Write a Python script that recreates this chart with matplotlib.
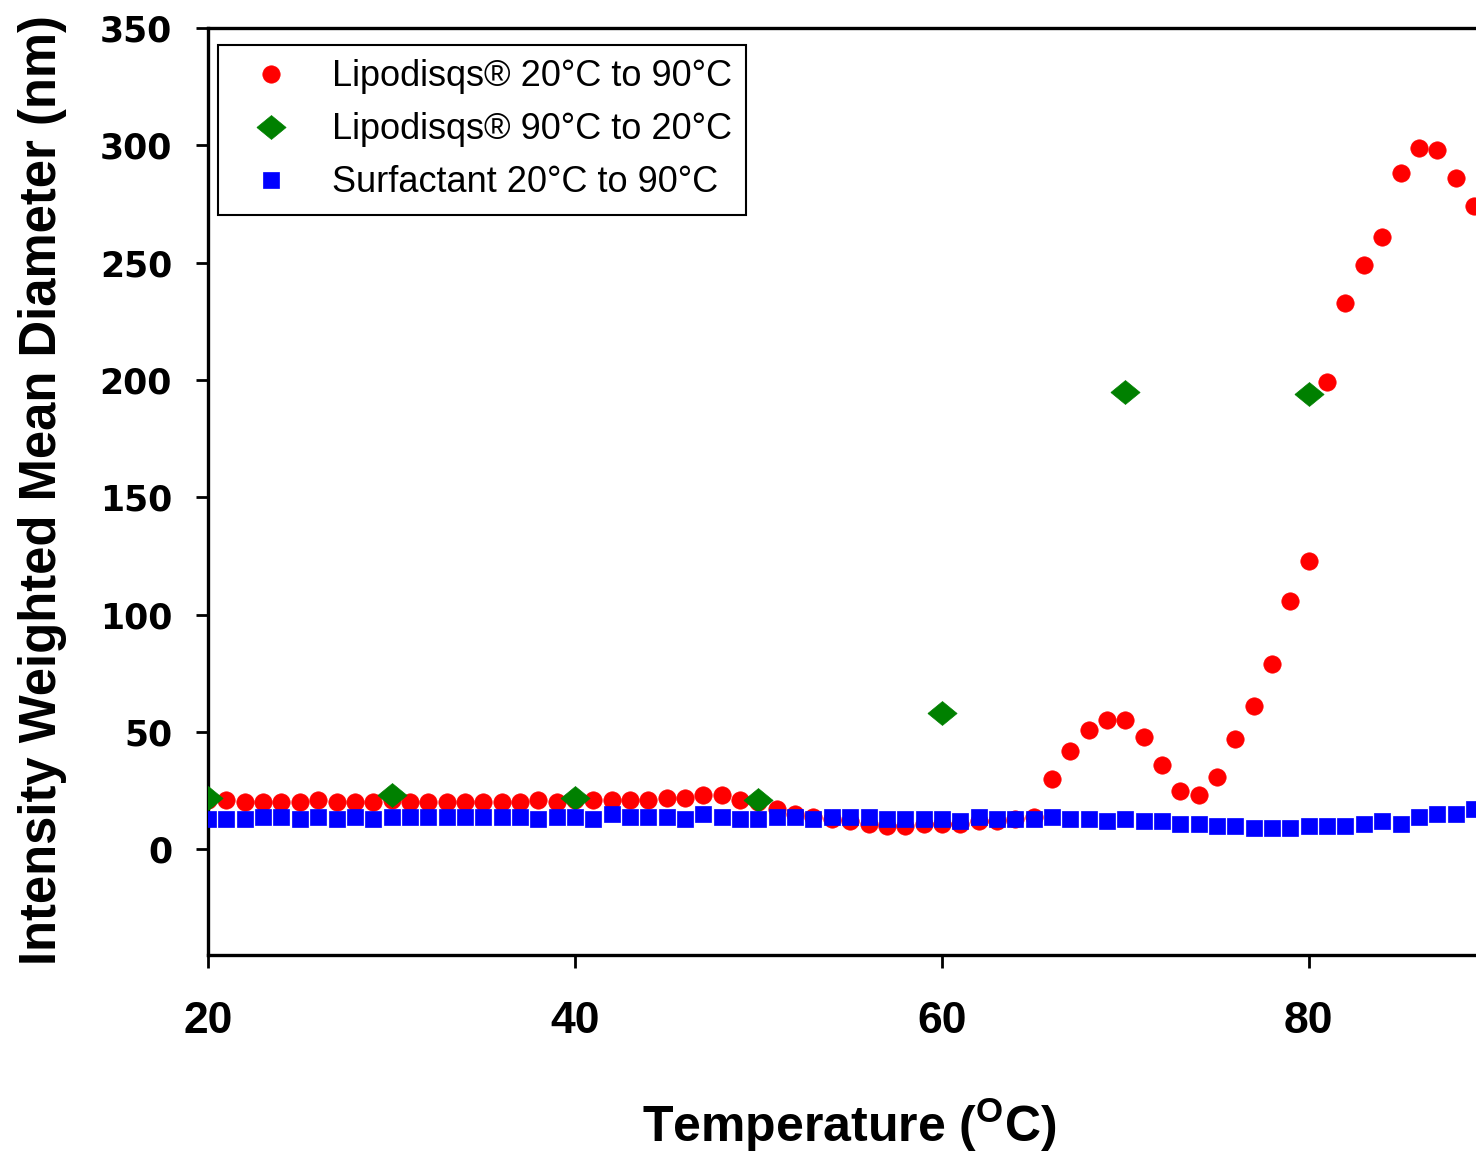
import numpy as np
import matplotlib
matplotlib.use("Agg")
import matplotlib.pyplot as plt
from matplotlib.ticker import FixedLocator

# temperatures (deg C), 1 degree steps as seen in the figure
temps = list(range(20, 90))

# Lipodisqs heating 20 -> 90
lipo_up = [21, 21, 20, 20, 20, 20, 21, 20, 20, 20,
           21, 20, 20, 20, 20, 20, 20, 20, 21, 20,
           21, 21, 21, 21, 21, 22, 22, 23, 23, 21,
           20, 17, 15, 14, 13, 12, 11, 10, 10, 11,
           11, 11, 12, 12, 13, 14, 30, 42, 51, 55,
           55, 48, 36, 25, 23, 31, 47, 61, 79, 106,
           123, 199, 233, 249, 261, 288, 299, 298, 286, 274]

# Lipodisqs cooling 90 -> 20 (every 10 deg)
cool_temps = [20, 30, 40, 50, 60, 70, 80]
lipo_down = [22, 23, 22, 21, 58, 195, 194]

# Surfactant heating 20 -> 90
surf_up = [13, 13, 13, 14, 14, 13, 14, 13, 14, 13,
           14, 14, 14, 14, 14, 14, 14, 14, 13, 14,
           14, 13, 15, 14, 14, 14, 13, 15, 14, 13,
           13, 14, 14, 13, 14, 14, 14, 13, 13, 13,
           13, 12, 14, 13, 13, 13, 14, 13, 13, 12,
           13, 12, 12, 11, 11, 10, 10, 9, 9, 9,
           10, 10, 10, 11, 12, 11, 14, 15, 15, 17]

labels = ["Lipodisqs\u00ae 20\u00b0C to 90\u00b0C",
          "Lipodisqs\u00ae 90\u00b0C to 20\u00b0C",
          "Surfactant 20\u00b0C to 90\u00b0C"]

fig = plt.figure(figsize=(14.76, 11.51), dpi=100)
ax = fig.add_axes([0.141, 0.1703, 0.870, 0.8054])

diamond = [(-1, 0), (0, 0.82), (1, 0), (0, -0.82), (-1, 0)]

ax.plot(temps, lipo_up, ls="none", marker="o", ms=12.5, color="#ff0000",
        mec="#ff0000", mew=0.5, label=labels[0], zorder=3)
ax.plot(cool_temps, lipo_down, ls="none", marker=diamond, ms=21, color="#008000",
        mec="#008000", mew=0.5, label=labels[1], zorder=4)
ax.plot(temps, surf_up, ls="none", marker="s", ms=11.5, color="#0000ff",
        mec="#0000ff", mew=0.5, label=labels[2], zorder=5)

ax.set_xlim(20, 90)
ax.set_ylim(-45, 350)
ax.xaxis.set_major_locator(FixedLocator([20, 40, 60, 80]))
ax.yaxis.set_major_locator(FixedLocator([0, 50, 100, 150, 200, 250, 300, 350]))

for side in ["left", "bottom", "top", "right"]:
    ax.spines[side].set_linewidth(2.4)
    ax.spines[side].set_color("black")

ax.tick_params(axis="both", direction="out", length=9, width=2)
ax.tick_params(axis="y", pad=17)
ax.tick_params(axis="x", pad=24)
for t in ax.get_yticklabels():
    t.set_fontfamily("DejaVu Sans")
    t.set_fontweight("bold")
    t.set_fontsize(25)
for t in ax.get_xticklabels():
    t.set_fontfamily("Liberation Sans")
    t.set_fontweight("bold")
    t.set_fontsize(32)

ax.set_ylabel("Intensity Weighted Mean Diameter (nm)",
              family=["Liberation Sans Narrow", "Liberation Sans"],
              fontweight="bold", fontsize=36.5, va="center")
ax.yaxis.set_label_coords(-0.129, 0.502)
ax.set_xlabel(r"Temperature ($\mathregular{^O}$C)", family="Liberation Sans",
              fontweight="bold", fontsize=36, va="center")
ax.xaxis.set_label_coords(0.499, -0.183)

leg = ax.legend(loc="upper left", bbox_to_anchor=(0.0078, 0.9817),
                borderaxespad=0, fancybox=False, framealpha=1,
                edgecolor="black", prop={"family": "Liberation Sans", "size": 26},
                handlelength=2.15, handletextpad=0.6, labelspacing=0.5,
                borderpad=0.4, numpoints=1)
leg.get_frame().set_linewidth(1.5)

fig.savefig("out.png", dpi=100)
